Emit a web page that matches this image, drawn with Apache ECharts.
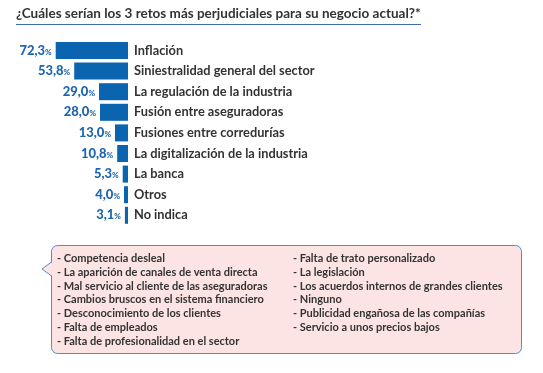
<!DOCTYPE html>
<html>
<head>
<meta charset="utf-8">
<script src="https://cdn.jsdelivr.net/npm/echarts@6/dist/echarts.min.js"></script>
<style>
html,body{margin:0;padding:0;background:#fff;}
#chart{width:543px;height:373px;}
</style>
</head>
<body>
<div id="chart"></div>
<script>
const title = '¿Cuáles serían los 3 retos más perjudiciales para su negocio actual?*';
const categories = ['Inflación','Siniestralidad general del sector','La regulación de la industria','Fusión entre aseguradoras','Fusiones entre corredurías','La digitalización de la industria','La banca','Otros','No indica'];
const values = [72.3, 53.8, 29.0, 28.0, 13.0, 10.8, 5.3, 4.0, 3.1];
const otherCol1 = ['- Competencia desleal','- La aparición de canales de venta directa','- Mal servicio al cliente de las aseguradoras','- Cambios bruscos en el sistema financiero','- Desconocimiento de los clientes','- Falta de empleados','- Falta de profesionalidad en el sector'];
const otherCol2 = ['- Falta de trato personalizado','- La legislación','- Los acuerdos internos de grandes clientes','- Ninguno','- Publicidad engañosa de las compañías','- Servicio a unos precios bajos'];

const FONT = 'Lato';
const chart = echarts.init(document.getElementById('chart'), null, {renderer:'canvas'});

function colText(lines, x) {
  return lines.map((t, i) => ({
    type: 'text', left: x, top: 253 + i * 13.8,
    style: { text: t, fill: '#333', font: 'bold 11px ' + FONT }
  }));
}

chart.setOption({
  animation: false,
  grid: { left: 28, right: 415, top: 40.2, bottom: 147.4, containLabel: false },
  xAxis: { type: 'value', min: 0, max: 100, inverse: true, show: false },
  yAxis: {
    type: 'category', data: categories, inverse: true, position: 'right',
    axisLine: { show: false }, axisTick: { show: false },
    axisLabel: { margin: 6, color: '#333', fontSize: 12.8, fontFamily: FONT, fontWeight: 'bold' }
  },
  series: [{
    type: 'bar', data: values, barWidth: 17,
    itemStyle: { color: '#0a64b0' },
    label: {
      show: true, position: 'left', distance: 4,
      color: '#1f66b0', fontWeight: 900, fontFamily: FONT, fontSize: 13,
      formatter: p => '{v|' + p.value.toFixed(1).replace('.', ',') + '}{p|%}',
      rich: {
        v: { color: '#1f66b0', fontSize: 13, fontWeight: 900, fontFamily: FONT },
        p: { color: '#1f66b0', fontSize: 8, fontWeight: 900, fontFamily: FONT, padding: [3,0,0,0] }
      }
    }
  }],
  graphic: [
    { type: 'text', left: 16, top: 7, style: { text: title, fill: '#333', font: 'bold 13.5px ' + FONT } },
    { type: 'line', shape: { x1: 16, y1: 24.5, x2: 421, y2: 24.5 }, style: { stroke: '#3a6fb0', lineWidth: 1 } },
    { type: 'rect', shape: { x: 51.5, y: 245.5, width: 470, height: 108, r: 6 }, style: { fill: '#fde4e4', stroke: '#5b88c4', lineWidth: 1 } },
    { type: 'polyline', shape: { points: [[51.5, 262], [42, 269], [51.5, 276]] }, style: { fill: '#fde4e4', stroke: '#5b88c4', lineWidth: 1 } },
    { type: 'rect', shape: { x: 51, y: 263, width: 2, height: 12 }, style: { fill: '#fde4e4' } },
    ...colText(otherCol1, 57),
    ...colText(otherCol2, 293)
  ]
});
</script>
</body>
</html>
